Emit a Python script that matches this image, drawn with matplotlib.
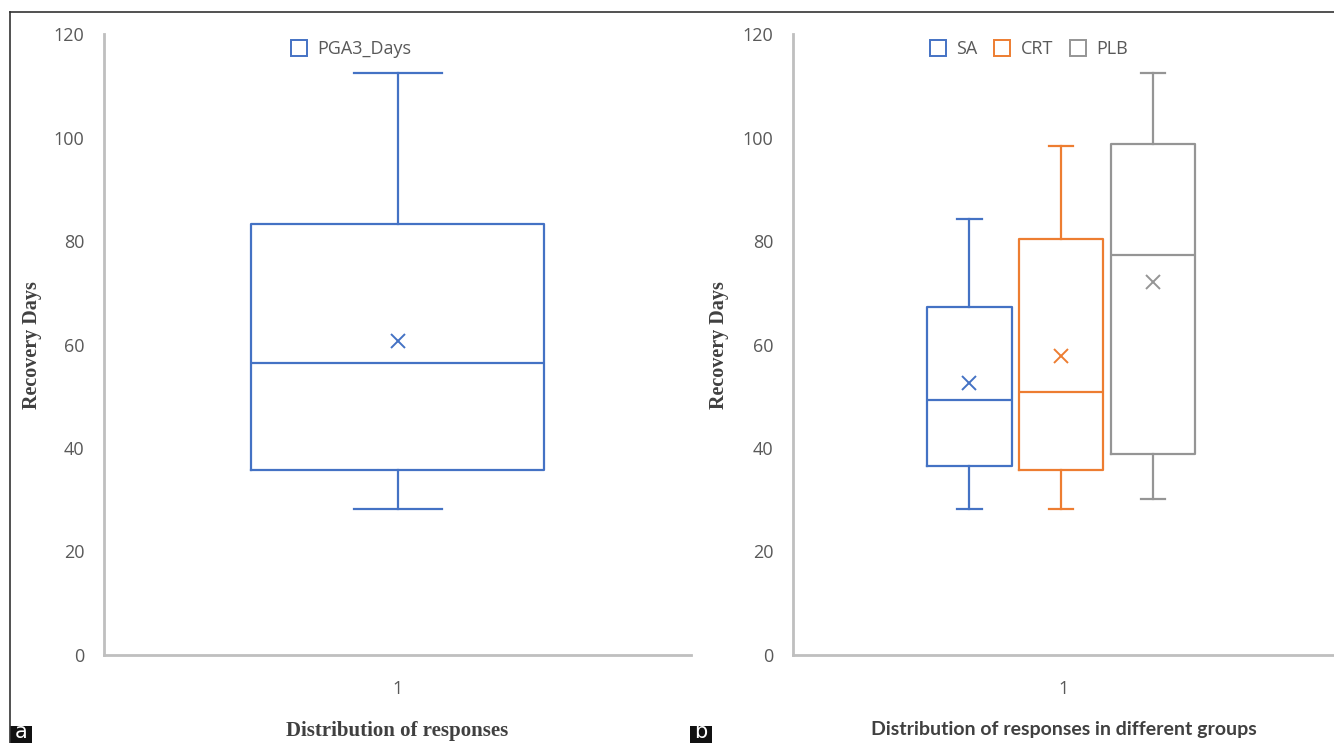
import matplotlib.pyplot as plt
from matplotlib.lines import Line2D
from matplotlib.patches import Rectangle

# ── Data ─────────────────────────────────────────
# panel a: all responses
a_labels = ["PGA3_Days"]
a_whislo = [28.3]
a_q1     = [35.7]
a_med    = [56.4]
a_q3     = [83.3]
a_whishi = [112.5]
a_mean   = [60.7]

# panel b: by group
b_labels = ["SA", "CRT", "PLB"]
b_whislo = [28.2, 28.2, 30.1]
b_q1     = [36.5, 35.7, 38.8]
b_med    = [49.3, 50.8, 77.3]
b_q3     = [67.2, 80.4, 98.7]
b_whishi = [84.2, 98.4, 112.5]
b_mean   = [52.6, 57.8, 72.1]

y_ticks = [0, 20, 40, 60, 80, 100, 120]
colors  = ["#4472C4", "#ED7D31", "#959595"]

AXIS_GRAY = "#BFBFBF"
TICK_GRAY = "#595959"
LABEL_GRAY = "#404040"


def make_stats(labels, lo, q1, med, q3, hi, mean):
    return [dict(label=l, whislo=a, q1=b, med=c, q3=d, whishi=e, mean=m, fliers=[])
            for l, a, b, c, d, e, m in zip(labels, lo, q1, med, q3, hi, mean)]


def box_props(c):
    line = dict(color=c, linewidth=1.6)
    return dict(boxprops=line, whiskerprops=line, capprops=line, medianprops=line,
                meanprops=dict(marker="x", markeredgecolor=c, markersize=10,
                               markeredgewidth=1.4, linestyle="none"))


def style_axes(ax):
    ax.set_ylim(0, 120)
    ax.set_xlim(0.5, 1.5)
    ax.set_yticks(y_ticks)
    ax.set_xticks([1])
    ax.set_xticklabels(["1"])
    for s in ["top", "right"]:
        ax.spines[s].set_visible(False)
    for s in ["left", "bottom"]:
        ax.spines[s].set_color(AXIS_GRAY)
        ax.spines[s].set_linewidth(2)
    ax.tick_params(axis="y", length=0, pad=14, labelsize=13, labelcolor=TICK_GRAY)
    ax.tick_params(axis="x", length=0, pad=18, labelsize=13, labelcolor=TICK_GRAY)
    for t in ax.get_xticklabels() + ax.get_yticklabels():
        t.set_fontfamily("Open Sans")
    ax.set_ylabel("Recovery Days", fontsize=14.5, fontweight="bold",
                  family="Liberation Serif", color=LABEL_GRAY)


def legend_handles(cols):
    return [Line2D([], [], marker="s", markersize=11, markerfacecolor="none",
                   markeredgecolor=c, markeredgewidth=1.4, linestyle="none")
            for c in cols]


fig = plt.figure(figsize=(13.34, 7.43), dpi=100)

# ── Panel a ──────────────────────────────────────
ax1 = fig.add_axes([0.078, 0.1185, 0.44, 0.8355])
stats_a = make_stats(a_labels, a_whislo, a_q1, a_med, a_q3, a_whishi, a_mean)
ax1.bxp(stats_a, positions=[1], widths=0.5, showmeans=True, showfliers=False,
        manage_ticks=False, capwidths=0.15, **box_props(colors[0]))
style_axes(ax1)
ax1.yaxis.set_label_coords(-0.106, 0.5)
ax1.set_xlabel("Distribution of responses", fontsize=15, fontweight="bold",
               family="Liberation Serif", color=LABEL_GRAY)
ax1.xaxis.set_label_coords(0.5, -0.106)
leg = ax1.legend(legend_handles(colors[:1]), a_labels, loc="center",
                 bbox_to_anchor=(0.42, 0.976), frameon=False,
                 handlelength=1.0, handletextpad=0.5,
                 prop={"family": "Open Sans", "size": 13})
for t in leg.get_texts():
    t.set_color(TICK_GRAY)

# ── Panel b ──────────────────────────────────────
ax2 = fig.add_axes([0.5945, 0.1185, 0.4055, 0.8355])
stats_b = make_stats(b_labels, b_whislo, b_q1, b_med, b_q3, b_whishi, b_mean)
b_pos = [0.826, 0.995, 1.165]
for st, pos, c in zip(stats_b, b_pos, colors):
    ax2.bxp([st], positions=[pos], widths=0.156, showmeans=True, showfliers=False,
            manage_ticks=False, capwidths=0.045, **box_props(c))
style_axes(ax2)
ax2.yaxis.set_label_coords(-0.118, 0.5)
ax2.set_xlabel("Distribution of responses in different groups", fontsize=14,
               fontweight="bold", family="Lato", color=LABEL_GRAY)
ax2.xaxis.set_label_coords(0.5, -0.106)
leg = ax2.legend(legend_handles(colors), b_labels, loc="center",
                 bbox_to_anchor=(0.435, 0.976), ncol=3, frameon=False,
                 handlelength=1.0, handletextpad=0.5, columnspacing=0.9,
                 prop={"family": "Open Sans", "size": 13})
for t in leg.get_texts():
    t.set_color(TICK_GRAY)

# ── Frame and panel tags ─────────────────────────
fig.add_artist(Line2D([10 / 1334, 1], [1 - 12 / 743] * 2, color="#333333", linewidth=1.2))
fig.add_artist(Line2D([10 / 1334] * 2, [0, 1 - 12 / 743], color="#333333", linewidth=1.2))
for tag, x in [("a", 10), ("b", 690)]:
    fig.add_artist(Rectangle((x / 1334, 0), 22 / 1334, 17 / 743,
                             facecolor="#111111", edgecolor="none"))
    fig.text((x + 11) / 1334, 1 / 743, tag, color="white", fontsize=15,
             ha="center", va="bottom", family="DejaVu Sans")

plt.savefig("out.png", dpi=100)
